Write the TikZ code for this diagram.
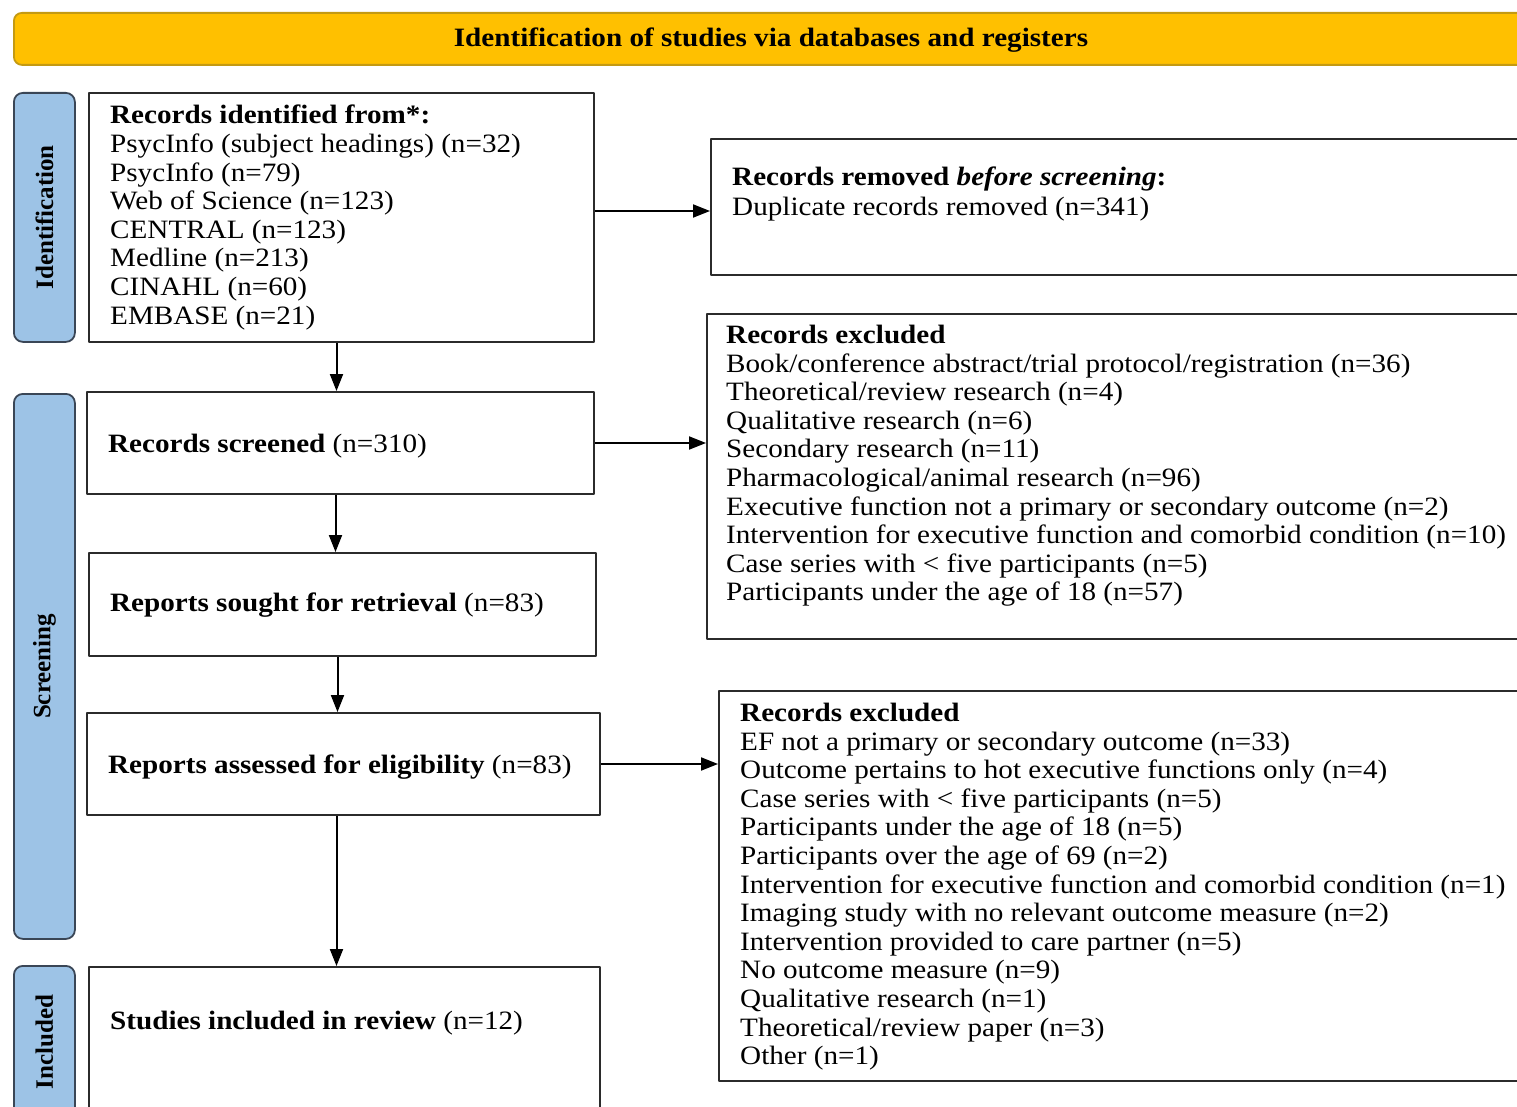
\documentclass[tikz,border=0pt]{standalone}
\usepackage{fontspec}
\setmainfont[FakeStretch=1.1]{Liberation Serif}
\newfontfamily\sidefont{Liberation Serif}
\usetikzlibrary{arrows.meta}
\definecolor{bannergold}{HTML}{FFC000}
\definecolor{bannerline}{HTML}{C49A12}
\definecolor{sideblue}{HTML}{9DC3E6}
\definecolor{sideline}{HTML}{3A4656}
\definecolor{boxline}{HTML}{2B2B2B}

\begin{document}
\begin{tikzpicture}[x=1pt, y=-1pt, line join=round,
		>={Triangle[length=17pt,width=13pt]},
		frame/.style={draw=boxline, line width=2pt, anchor=north west, inner sep=0pt},
		sidebox/.style={draw=sideline, fill=sideblue, line width=1.8pt, rounded corners=9pt,
			anchor=north west, inner sep=0pt},
		txt/.style={anchor=north west, inner sep=0pt, align=left,
			font=\fontsize{26.5}{28.6}\selectfont, execute at begin node=\strut},
		sidetxt/.style={rotate=90, inner sep=0pt, font=\sidefont\bfseries\fontsize{25}{28}\selectfont},
		arr/.style={->, line width=2pt}]
	\useasboundingbox (0,0) rectangle (1517,1107);
	\clip (0,0) rectangle (1517,1107);
	% banner
	\node[sidebox, draw=bannerline, fill=bannergold, rounded corners=8pt,
		minimum width=1517pt, minimum height=52pt] (banner) at (13,12) {};
	\node[txt, anchor=base] (bannertxt) at (771,47)
		{\textbf{Identification of studies via databases and registers}};
	% phase labels
	\node[sidebox, minimum width=61pt, minimum height=249pt] (phaseid) at (13,92) {};
	\node[sidebox, minimum width=61pt, minimum height=545pt] (phasescr) at (13,393) {};
	\node[sidebox, minimum width=61pt, minimum height=152pt] (phaseinc) at (13,965) {};
	\node[sidetxt] (phaseidtxt) at (phaseid) {Identification};
	\node[sidetxt] (phasescrtxt) at (phasescr) {Screening};
	\node[sidetxt] (phaseinctxt) at (phaseinc) {Included};
	% main column
	\node[frame, minimum width=505pt, minimum height=249pt] (ident) at (88,92) {};
	\node[frame, minimum width=507pt, minimum height=102pt] (screened) at (86,391) {};
	\node[frame, minimum width=507pt, minimum height=103pt] (sought) at (88,552) {};
	\node[frame, minimum width=513pt, minimum height=102pt] (assessed) at (86,712) {};
	\node[frame, minimum width=511pt, minimum height=160pt] (included) at (88,966) {};
	\node[txt] (identtxt) at (110,105) {\textbf{Records identified from*:}\\
		PsycInfo (subject headings) (n=32)\\
		PsycInfo (n=79)\\
		Web of Science (n=123)\\
		CENTRAL (n=123)\\
		Medline (n=213)\\
		CINAHL (n=60)\\
		EMBASE (n=21)};
	\node[txt, anchor=base west] (screenedtxt) at (108,452) {\textbf{Records screened} (n=310)};
	\node[txt, anchor=base west] (soughttxt) at (110,611) {\textbf{Reports sought for retrieval} (n=83)};
	\node[txt, anchor=base west] (assessedtxt) at (108,773) {\textbf{Reports assessed for eligibility} (n=83)};
	\node[txt, anchor=base west] (includedtxt) at (110,1029) {\textbf{Studies included in review} (n=12)};
	% side column
	\node[frame, minimum width=850pt, minimum height=136pt] (removed) at (710,138) {};
	\node[frame, minimum width=850pt, minimum height=325pt] (excla) at (706,313) {};
	\node[frame, minimum width=850pt, minimum height=390pt] (exclb) at (718,690) {};
	\node[txt] (removedtxt) at (732,167) {\textbf{Records removed \textit{before screening}:}\\[1.4pt]
		Duplicate records removed (n=341)};
	\node[txt] (exclatxt) at (726,325) {\textbf{Records excluded}\\
		Book/conference abstract/trial protocol/registration (n=36)\\
		Theoretical/review research (n=4)\\
		Qualitative research (n=6)\\
		Secondary research (n=11)\\
		Pharmacological/animal research (n=96)\\
		Executive function not a primary or secondary outcome (n=2)\\
		Intervention for executive function and comorbid condition (n=10)\\
		Case series with < five participants (n=5)\\
		Participants under the age of 18 (n=57)};
	\node[txt] (exclbtxt) at (740,703) {\textbf{Records excluded}\\
		EF not a primary or secondary outcome (n=33)\\
		Outcome pertains to hot executive functions only (n=4)\\
		Case series with < five participants (n=5)\\
		Participants under the age of 18 (n=5)\\
		Participants over the age of 69 (n=2)\\
		Intervention for executive function and comorbid condition (n=1)\\
		Imaging study with no relevant outcome measure (n=2)\\
		Intervention provided to care partner (n=5)\\
		No outcome measure (n=9)\\
		Qualitative research (n=1)\\
		Theoretical/review paper (n=3)\\
		Other (n=1)};
	% arrows
	\draw[arr] ([yshift=-4pt]ident.east |- removed.west) -- ([yshift=-4pt]removed.west);
	\draw[arr] ([xshift=-5pt]ident.south) -- ([xshift=-5pt]ident.south |- screened.north);
	\draw[arr] (screened.east) -- (screened.east -| excla.west);
	\draw[arr] ([xshift=-5pt]screened.south) -- ([xshift=-5pt]screened.south |- sought.north);
	\draw[arr] ([xshift=-5pt]sought.south) -- ([xshift=-5pt]sought.south |- assessed.north);
	\draw[arr] (assessed.east) -- (assessed.east -| exclb.west);
	\draw[arr] ([xshift=-7pt]assessed.south) -- ([xshift=-7pt]assessed.south |- included.north);
\end{tikzpicture}
\end{document}
